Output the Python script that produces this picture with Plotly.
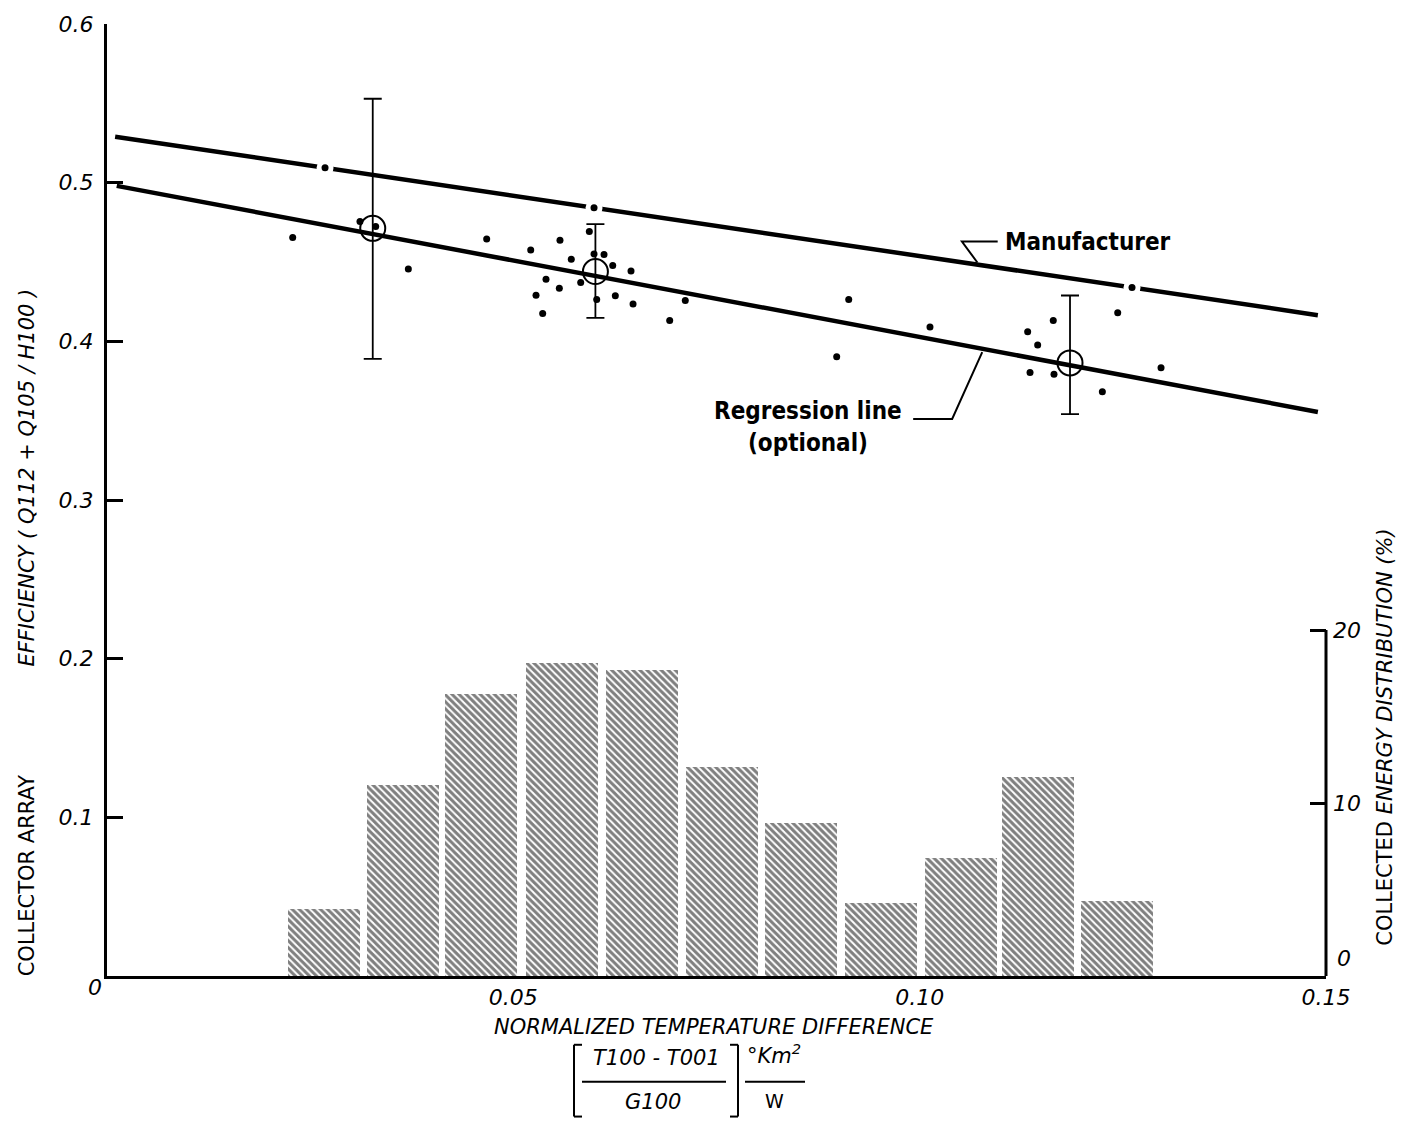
import numpy as np
import plotly.graph_objects as go

# ---- measured efficiency points ----
pt_x = [0.02285, 0.03113, 0.03306, 0.03708, 0.04672, 0.05214, 0.05574, 0.05713,
        0.05402, 0.05566, 0.05279, 0.05361, 0.05829, 0.05935, 0.05993, 0.06116,
        0.06223, 0.06448, 0.06026, 0.06255, 0.06473, 0.07116, 0.06924, 0.09127,
        0.08979, 0.10127, 0.11644, 0.11329, 0.11452, 0.11358, 0.11653, 0.12437,
        0.12248, 0.12970]
pt_y = [0.4655, 0.4756, 0.4723, 0.4456, 0.4645, 0.4576, 0.4637, 0.4517,
        0.4391, 0.4335, 0.4290, 0.4176, 0.4371, 0.4693, 0.4551, 0.4547,
        0.4478, 0.4444, 0.4264, 0.4287, 0.4236, 0.4258, 0.4132, 0.4264,
        0.3903, 0.4090, 0.4132, 0.4060, 0.3977, 0.3803, 0.3793, 0.4180,
        0.3683, 0.3834]

# ---- group means with spread ----
mean_x = [0.0327, 0.0601, 0.1185]
mean_y = [0.4712, 0.4440, 0.3864]
mean_hi = [0.5529, 0.4739, 0.4289]
mean_lo = [0.3889, 0.4148, 0.3541]

# ---- lines ----
man_x = [0.001, 0.149]
man_y = [0.529, 0.4165]
man_break_x = [0.02683, 0.05993, 0.12613]
reg_x = [0.0012, 0.149]
reg_y = [0.498, 0.3555]

# ---- collected energy distribution (%) ----
bin_x = [0.02670, 0.03642, 0.04602, 0.05599, 0.06589, 0.07562, 0.08540,
         0.09524, 0.10503, 0.11462, 0.12434]
bin_pct = [3.90, 11.07, 16.29, 18.12, 17.69, 12.10, 8.82, 4.21, 6.80, 11.53, 4.32]

x_ticks = [0.05, 0.10, 0.15]
x_ticktext = ["0.05", "0.10", "0.15"]
y_ticks = [0.1, 0.2, 0.3, 0.4, 0.5, 0.6]
y_ticktext = ["0.1", "0.2", "0.3", "0.4", "0.5", "0.6"]
y2_ticks = [10, 20]
y2_ticktext = ["10", "20"]

W, H = 1413, 1124
L, R, T, B = 107, 87, 21, 148
PW, PH = W - L - R, H - T - B


def px(x):
    return (x - L) / PW


def py(y):
    return (H - B - y) / PH


FONT = "DejaVu Sans"
LBL = "DejaVu Sans Condensed, Liberation Sans Narrow, DejaVu Sans"
ink = "black"

fig = go.Figure()

fig.add_trace(go.Bar(
    x=bin_x, y=bin_pct, yaxis="y2", width=0.00886,
    marker=dict(color="white", line=dict(width=0),
                pattern=dict(shape="\\", fgcolor="black", bgcolor="white",
                             size=5, solidity=0.6)),
    hoverinfo="skip",
))

fig.add_trace(go.Scatter(
    x=man_x, y=man_y, mode="lines",
    line=dict(color=ink, width=4.5), hoverinfo="skip",
))
brk_y = list(np.interp(man_break_x, man_x, man_y))
fig.add_trace(go.Scatter(
    x=man_break_x, y=brk_y, mode="markers",
    marker=dict(color="white", size=17, line=dict(width=0)), hoverinfo="skip",
))
fig.add_trace(go.Scatter(
    x=man_break_x, y=brk_y, mode="markers",
    marker=dict(color=ink, size=7), hoverinfo="skip",
))
fig.add_trace(go.Scatter(
    x=reg_x, y=reg_y, mode="lines",
    line=dict(color=ink, width=4.5), hoverinfo="skip",
))
fig.add_trace(go.Scatter(
    x=pt_x, y=pt_y, mode="markers",
    marker=dict(color=ink, size=7), hoverinfo="skip",
))
fig.add_trace(go.Scatter(
    x=mean_x, y=mean_y, mode="markers",
    marker=dict(symbol="circle-open", size=25, color=ink, line=dict(width=2)),
    error_y=dict(type="data", symmetric=False,
                 array=[h - m for h, m in zip(mean_hi, mean_y)],
                 arrayminus=[m - l for m, l in zip(mean_y, mean_lo)],
                 color=ink, thickness=1.8, width=9),
    hoverinfo="skip",
))

shapes = []
# right-hand axis line covers only 0..20 %
shapes.append(dict(type="line", xref="paper", yref="y2", x0=1, x1=1, y0=0, y1=20,
                   line=dict(color=ink, width=3)))
# leader lines for the labels
shapes.append(dict(type="path", xref="x", yref="y",
                   path="M 0.1096,0.4629 L 0.1052,0.4629 L 0.1071,0.4497",
                   line=dict(color=ink, width=2)))
shapes.append(dict(type="path", xref="x", yref="y",
                   path="M 0.0992,0.3511 L 0.1040,0.3511 L 0.1077,0.3932",
                   line=dict(color=ink, width=2)))


def seg(x0, y0, x1, y1, w=2):
    shapes.append(dict(type="line", xref="paper", yref="paper",
                       x0=px(x0), y0=py(y0), x1=px(x1), y1=py(y1),
                       line=dict(color=ink, width=w)))


# unit expression: brackets and fraction bars
seg(574, 1045, 582, 1045); seg(574, 1045, 574, 1117); seg(574, 1117, 582, 1117)
seg(730, 1045, 738, 1045); seg(738, 1045, 738, 1117); seg(730, 1117, 738, 1117)
seg(582, 1082, 726, 1082)
seg(745, 1082, 805, 1082)

ann = []


def text(x, y, s, size=21, family=FONT, style="italic", angle=0, xanchor="center",
         weight="normal"):
    ann.append(dict(x=px(x), y=py(y), xref="paper", yref="paper", text=s,
                    showarrow=False, textangle=angle, xanchor=xanchor,
                    yanchor="middle",
                    font=dict(family=family, size=size, color=ink, style=style,
                              weight=weight)))


text(95, 988, "0", size=22)
text(1344, 958, "0", size=22)
text(1003, 240, "Manufacturer", size=24, family=LBL, style="normal",
     xanchor="left", weight="bold")
text(808, 409, "Regression line", size=24, family=LBL, style="normal", weight="bold")
text(808, 441, "(optional)", size=24, family=LBL, style="normal", weight="bold")
text(714, 1027, "NORMALIZED TEMPERATURE DIFFERENCE", size=21)
text(656, 1058, "T100 - T001", size=21)
text(653, 1102, "G100", size=21)
text(774, 1054, "°Km<sup>2</sup>", size=21)
text(774, 1101, "W", size=19, style="normal")
text(27, 875, "COLLECTOR ARRAY", size=21, style="normal", angle=-90)
text(27, 476, "EFFICIENCY ( Q112 + Q105 / H100 )", size=21, angle=-90)
text(1385, 737, "COLLECTED <i>ENERGY DISTRIBUTION (%)</i>", size=21,
     style="normal", angle=-90)

tickfont = dict(family=FONT, size=22, color=ink, style="italic")

fig.update_layout(
    width=W, height=H,
    margin=dict(l=L, r=R, t=T, b=B, pad=0),
    paper_bgcolor="white", plot_bgcolor="white",
    showlegend=False,
    bargap=0,
    xaxis=dict(range=[0, 0.15], tickvals=x_ticks, ticktext=x_ticktext,
               showline=True, linecolor=ink, linewidth=3, ticks="",
               showgrid=False, zeroline=False, tickfont=tickfont),
    yaxis=dict(range=[0, 0.6], tickvals=y_ticks, ticktext=y_ticktext,
               showline=True, linecolor=ink, linewidth=3,
               ticks="inside", ticklen=16, tickwidth=2.5, tickcolor=ink,
               showgrid=False, zeroline=False, tickfont=tickfont,
               ticklabelstandoff=6),
    yaxis2=dict(range=[0, 55.04], overlaying="y", side="right",
                tickvals=y2_ticks, ticktext=y2_ticktext,
                showline=False, ticks="inside", ticklen=16, tickwidth=2.5,
                tickcolor=ink, showgrid=False, zeroline=False,
                tickfont=tickfont, ticklabelstandoff=6),
    shapes=shapes,
    annotations=ann,
)

fig.write_html("out.html")
